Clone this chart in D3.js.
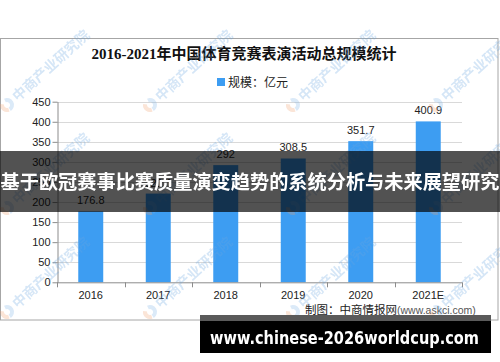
<!DOCTYPE html>
<meta charset="utf-8">
<script src="https://d3js.org/d3.v7.min.js"></script>
<title>2016-2021年中国体育竞赛表演活动总规模统计</title>
<style>
  body { margin: 0; background: #fff; }
  text { font-family: "Liberation Sans", "Noto Sans CJK SC", sans-serif; }
</style>
<body>
<div id="chart"></div>
<script>
    // data
    var years = ["2016", "2017", "2018", "2019", "2020", "2021E"];
    var values = [176.8, 221.1, 292, 308.5, 351.7, 400.9];
    var yTicks = [0, 50, 100, 150, 200, 250, 300, 350, 400, 450];

    var W = 500, H = 362;
    var plot = {left: 57, right: 462, top: 101.7, bottom: 282.3};

    var svg = d3.select("#chart").append("svg")
            .attr("width", W)
            .attr("height", H);

    // scales
    var x = d3.scaleBand().domain(years).range([plot.left, plot.right]);
    var y = d3.scaleLinear().domain([0, 450]).range([plot.bottom, plot.top]);
    var barW = x.bandwidth() * 0.37;

    // chart frame
    svg.append("rect")
            .attr("x", 0.5).attr("y", 38.5)
            .attr("width", 497.5).attr("height", 281.5)
            .attr("fill", "#fff")
            .attr("stroke", "#a6a6a6");

    // title + legend
    svg.append("text")
            .attr("x", 244).attr("y", 59)
            .attr("text-anchor", "middle")
            .style("font-family", "'Liberation Serif', 'Noto Sans CJK SC', serif")
            .style("font-size", "15px")
            .style("font-weight", "bold")
            .attr("fill", "#111")
            .text("2016-2021年中国体育竞赛表演活动总规模统计");

    svg.append("rect")
            .attr("x", 217).attr("y", 78).attr("width", 8).attr("height", 8)
            .attr("fill", "#3d9df2");
    svg.append("text")
            .attr("x", 228).attr("y", 86.5)
            .style("font-size", "12px")
            .attr("fill", "#222")
            .text("规模：亿元");

    // gridlines
    svg.append("g").selectAll("line")
            .data(yTicks.filter(function(d) { return d > 0; }))
            .enter().append("line")
            .attr("x1", plot.left).attr("x2", plot.right)
            .attr("y1", function(d) { return Math.round(y(d)) + 0.5; })
            .attr("y2", function(d) { return Math.round(y(d)) + 0.5; })
            .attr("stroke", "#d9d9d9");

    // y axis
    var yAxis = svg.append("g")
            .attr("transform", "translate(" + (plot.left + 0.5) + ",0)")
            .call(d3.axisLeft(y).tickValues(yTicks).tickSize(5).tickSizeOuter(0));
    yAxis.select(".domain").attr("stroke", "#8c8c8c");
    yAxis.selectAll(".tick line").attr("stroke", "#8c8c8c");
    yAxis.selectAll(".tick text")
            .attr("x", -7)
            .style("font-family", "'Liberation Sans', sans-serif")
            .style("font-size", "11px")
            .attr("fill", "#222");

    // bars
    svg.append("g").selectAll("rect")
            .data(values)
            .enter().append("rect")
            .attr("x", function(d, i) { return x(years[i]) + (x.bandwidth() - barW) / 2; })
            .attr("y", function(d) { return y(d); })
            .attr("width", barW)
            .attr("height", function(d) { return plot.bottom - y(d); })
            .attr("fill", "#3d9df2");

    // value labels
    svg.append("g").selectAll("text")
            .data(values)
            .enter().append("text")
            .attr("x", function(d, i) { return x(years[i]) + x.bandwidth() / 2; })
            .attr("y", function(d) { return y(d) - 7; })
            .attr("text-anchor", "middle")
            .style("font-size", "11px")
            .attr("fill", "#222")
            .text(function(d) { return d; });

    // x axis with ticks on the band edges
    var xg = svg.append("g");
    xg.append("line")
            .attr("x1", plot.left).attr("x2", plot.right)
            .attr("y1", plot.bottom + 0.5).attr("y2", plot.bottom + 0.5)
            .attr("stroke", "#8c8c8c");
    xg.selectAll(".edge")
            .data(years.map(function(d) { return x(d); }).concat([plot.right]))
            .enter().append("line")
            .attr("x1", function(d) { return Math.round(d) + 0.5; })
            .attr("x2", function(d) { return Math.round(d) + 0.5; })
            .attr("y1", plot.bottom).attr("y2", plot.bottom + 5)
            .attr("stroke", "#8c8c8c");
    xg.selectAll(".lbl")
            .data(years)
            .enter().append("text")
            .attr("x", function(d) { return x(d) + x.bandwidth() / 2; })
            .attr("y", 299)
            .attr("text-anchor", "middle")
            .style("font-size", "11px")
            .attr("fill", "#222")
            .text(function(d) { return d; });

    // source note
    var src = svg.append("text")
            .attr("x", 305).attr("y", 314)
            .style("font-size", "11.5px")
            .attr("fill", "#222");
    src.append("tspan").text("制图：中商情报网");
    src.append("tspan").attr("fill", "#555").style("font-size", "10.5px").text("(www.askci.com)");

    // watermark grid
    var wmX = [7, 150, 293, 436];
    var wmY = [105, 208, 312];
    var wm = svg.append("g").attr("opacity", 0.28);
    wmY.forEach(function(yy) {
        wmX.forEach(function(xx) {
            var g = wm.append("g").attr("transform", "translate(" + xx + "," + yy + ") rotate(-42)");
            g.append("path")
                    .attr("d", d3.arc()({innerRadius: 3, outerRadius: 7, startAngle: 0.3, endAngle: 3.3}))
                    .attr("fill", "#7fb3e6");
            g.append("path")
                    .attr("d", d3.arc()({innerRadius: 3, outerRadius: 7, startAngle: 3.5, endAngle: 5.6}))
                    .attr("fill", "#f0a070");
            g.append("text")
                    .attr("x", 10).attr("y", 5)
                    .style("font-family", "'Noto Sans CJK SC', sans-serif")
                    .style("font-size", "14px")
                    .style("font-weight", "bold")
                    .attr("fill", "#6aa6e0")
                    .text("中商产业研究院");
        });
    });

    // overlay banner across the middle
    svg.append("rect")
            .attr("x", 0).attr("y", 151)
            .attr("width", W).attr("height", 61)
            .attr("fill", "rgba(0,0,0,0.68)");
    svg.append("text")
            .attr("x", 250).attr("y", 189)
            .attr("text-anchor", "middle")
            .style("font-family", "'Noto Sans CJK SC', sans-serif")
            .style("font-size", "19.2px")
            .style("font-weight", "bold")
            .attr("fill", "#fff")
            .text("基于欧冠赛事比赛质量演变趋势的系统分析与未来展望研究");

    // url box at the bottom
    svg.append("rect")
            .attr("x", 200).attr("y", 315).attr("width", 291).attr("height", 6)
            .attr("fill", "#5a5a5a");
    svg.append("rect")
            .attr("x", 200).attr("y", 321).attr("width", 291).attr("height", 32)
            .attr("fill", "#000");
    svg.append("text")
            .attr("x", 210).attr("y", 344)
            .style("font-family", "'DejaVu Sans', sans-serif")
            .style("font-size", "18px")
            .style("font-weight", "bold")
            .attr("fill", "#fff")
            .attr("textLength", 269)
            .attr("lengthAdjust", "spacingAndGlyphs")
            .text("www.chinese-2026worldcup.com");
</script>
</body>
